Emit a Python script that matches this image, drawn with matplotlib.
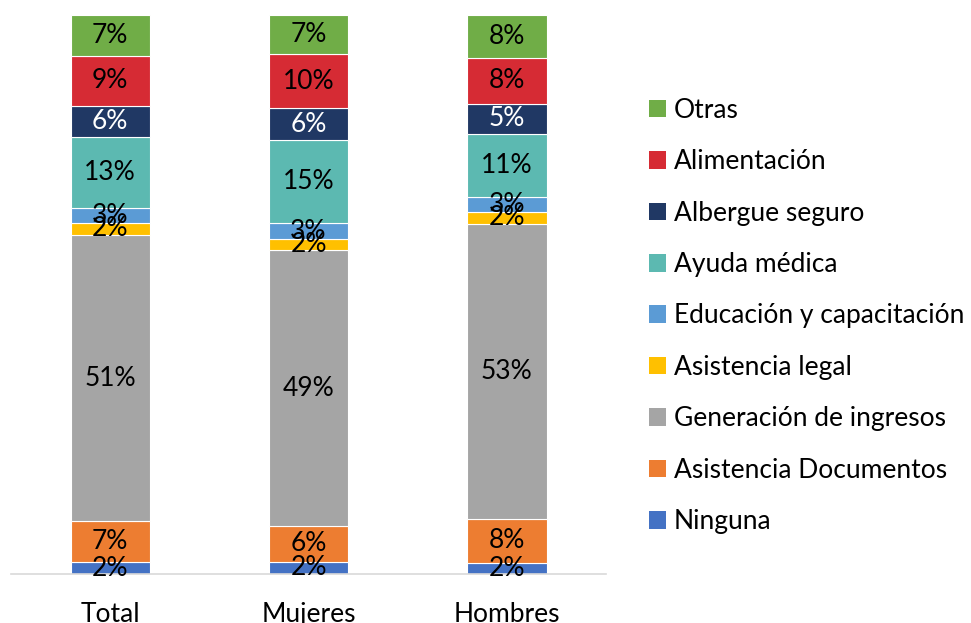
import numpy as np
import matplotlib.pyplot as plt
from matplotlib.patches import Patch

plt.rcParams['font.family'] = ['Lato', 'DejaVu Sans']

groups = ['Total', 'Mujeres', 'Hombres']
categories = ['Ninguna', 'Asistencia Documentos', 'Generación de ingresos',
              'Asistencia legal', 'Educación y capacitación', 'Ayuda médica',
              'Albergue seguro', 'Alimentación', 'Otras']
colors = ['#4472C4', '#ED7D31', '#A5A5A5', '#FFC000', '#5B9BD5',
          '#5CB9B1', '#203864', '#D62B34', '#70AD47']
label_colors = ['black'] * 6 + ['white'] + ['black'] * 2

# shares in % (Total, Mujeres, Hombres)
ninguna = [2.1, 2.2, 2.0]
documentos = [7.3, 6.4, 7.9]
ingresos = [51.3, 49.3, 52.8]
legal = [2.1, 2.0, 2.1]
educacion = [2.7, 2.9, 2.7]
medica = [12.7, 14.8, 11.2]
albergue = [5.6, 5.7, 5.4]
alimentacion = [8.9, 9.7, 8.2]
otras = [7.3, 7.0, 7.7]

series = [ninguna, documentos, ingresos, legal, educacion,
          medica, albergue, alimentacion, otras]

fig = plt.figure(figsize=(9.71, 6.23), dpi=100)
ax = fig.add_axes([11 / 971, 1 - 574 / 623, 595 / 971, 559 / 623])

x = np.arange(len(groups))
bottom = np.zeros(len(groups))
for name, vals, col, tcol in zip(categories, series, colors, label_colors):
    vals = np.array(vals, dtype=float)
    ax.bar(x, vals, 0.4, bottom=bottom, color=col, edgecolor='white',
           linewidth=0.8, label=name)
    for xi, b, v in zip(x, bottom, vals):
        ax.text(xi, b + v / 2, f'{v:.0f}%', ha='center', va='center',
                fontsize=19, color=tcol)
    bottom += vals

ax.set_xlim(-0.5, 2.5)
ax.set_ylim(0, 100)
ax.set_yticks([])
ax.set_xticks(x)
ax.set_xticklabels(groups, fontsize=19)
ax.tick_params(axis='x', length=0, pad=20)
for s in ['top', 'right', 'left']:
    ax.spines[s].set_visible(False)
ax.spines['bottom'].set_color('#D9D9D9')
ax.spines['bottom'].set_linewidth(1.2)

handles = [Patch(facecolor=c, label=n) for n, c in zip(categories, colors)]
fig.legend(handles[::-1], categories[::-1], loc='center left',
           bbox_to_anchor=(638 / 971, 1 - 316 / 623), frameon=False,
           fontsize=19, handlelength=0.65, handleheight=0.65,
           handletextpad=0.3, labelspacing=1.0, borderaxespad=0)

plt.savefig('out.png', dpi=100)
